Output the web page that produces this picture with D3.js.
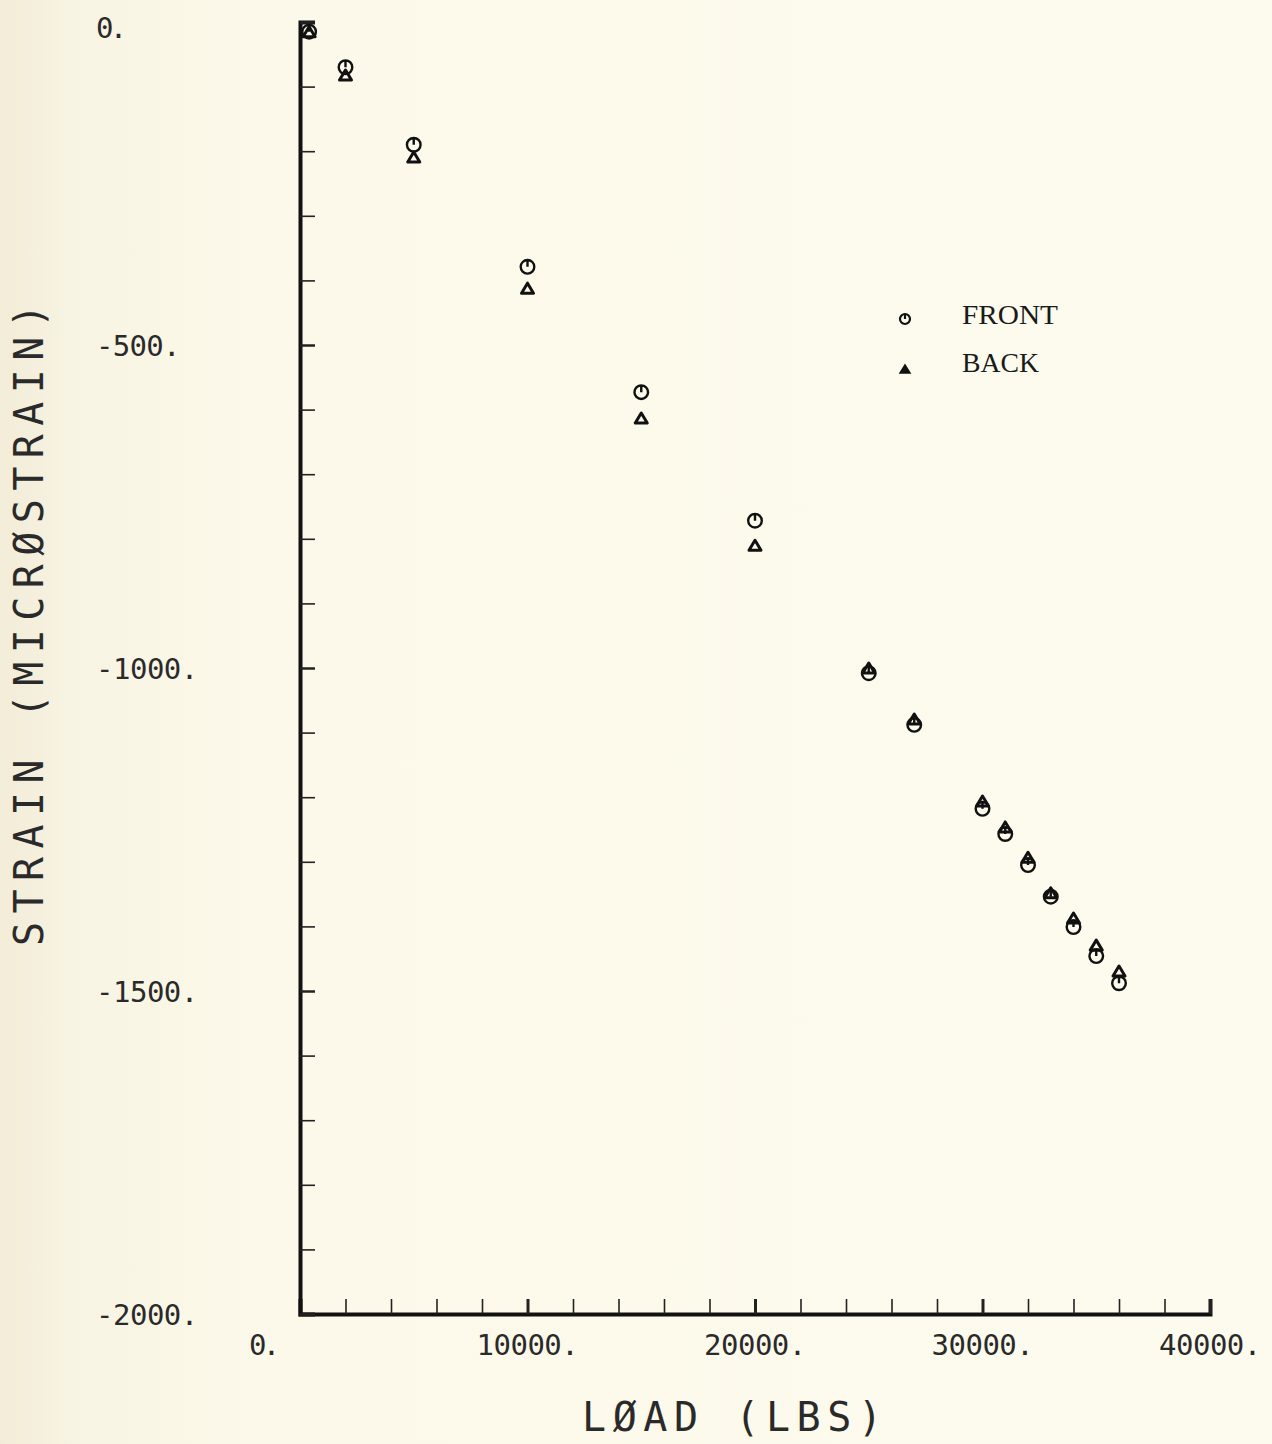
<!DOCTYPE html>
<html lang="en">
  <head>
    <meta charset="utf-8">
    <title>Strain vs Load</title>
    <script src="https://d3js.org/d3.v7.min.js"></script>
    <style>
      body { margin: 0; background: #fcf9ea; }
      .tick-label { font-family: "DejaVu Sans Mono", monospace; font-size: 29px; fill: #2a2a2a; letter-spacing: 0.5px; }
      .axis-title { font-family: "DejaVu Sans Mono", monospace; font-size: 40px; fill: #2a2a2a; }
      .legend-text { font-family: "Liberation Serif", serif; font-size: 28px; fill: #1a1a1a; }
    </style>
  </head>
  <body>
    <script type="text/javascript">
      // load in lbs, strain in microstrain
      var loads       = [400, 2000, 5000, 10000, 15000, 20000, 25000, 27000, 30000, 31000, 32000, 33000, 34000, 35000, 36000];
      var frontStrain = [-15, -70, -190, -379, -573, -772, -1008, -1088, -1218, -1257, -1305, -1354, -1401, -1446, -1488];
      var backStrain  = [-15, -82, -209, -412, -613, -810, -1000, -1079, -1206, -1246, -1293, -1348, -1387, -1429, -1469];

      var xTickLabels = ["0.", "10000.", "20000.", "30000.", "40000."];
      var xTickValues = [0, 10000, 20000, 30000, 40000];
      var yTickLabels = ["0.", "-500.", "-1000.", "-1500.", "-2000."];
      var yTickValues = [0, -500, -1000, -1500, -2000];

      var w = 1272;
      var h = 1444;

      var xScale = d3.scaleLinear()
                     .domain([0, 40000])
                     .range([300, 1210]);

      var yScale = d3.scaleLinear()
                     .domain([0, -2000])
                     .range([22, 1314]);

      var svg = d3.select("body")
                  .append("svg")
                  .attr("width", w)
                  .attr("height", h);

      // paper background, slightly darker at the left edge
      var grad = svg.append("defs").append("linearGradient")
                    .attr("id", "paper");
      grad.append("stop").attr("offset", "0").attr("stop-color", "#f2ecd8");
      grad.append("stop").attr("offset", "0.06").attr("stop-color", "#f8f4e3");
      grad.append("stop").attr("offset", "0.2").attr("stop-color", "#fcf9ea");
      grad.append("stop").attr("offset", "1").attr("stop-color", "#fdfbee");
      svg.append("rect")
         .attr("width", w).attr("height", h)
         .attr("fill", "url(#paper)");

      // axes, ticks pointing inward
      var xAxis = d3.axisBottom(xScale)
                    .tickValues(d3.range(0, 40001, 2000))
                    .tickSize(-15)
                    .tickFormat("");
      var yAxis = d3.axisLeft(yScale)
                    .tickValues(d3.range(0, -2001, -100))
                    .tickSize(-15)
                    .tickFormat("");

      var gx = svg.append("g")
         .attr("transform", "translate(0," + yScale(-2000) + ")")
         .call(xAxis);
      var gy = svg.append("g")
         .attr("transform", "translate(" + xScale(0) + ",0)")
         .call(yAxis);

      [gx, gy].forEach(function(g) {
        g.select(".domain").attr("stroke", "#111").attr("stroke-width", 4);
        g.selectAll(".tick line").attr("stroke", "#222").attr("stroke-width", 1.6);
      });
      gx.selectAll(".tick line")
        .filter(function(d) { return d % 10000 === 0; })
        .attr("stroke-width", 3);
      gy.selectAll(".tick line")
        .filter(function(d) { return d % 500 === 0; })
        .attr("stroke-width", 2.5);

      // tick labels
      svg.selectAll(".xlab")
         .data(xTickValues)
         .enter()
         .append("text")
         .attr("class", "tick-label")
         .attr("x", function(d) { return xScale(d) - 51; })
         .attr("y", yScale(-2000) + 41)
         .attr("textLength", function(d, i) { return xTickLabels[i].length * 17.8 - 4; })
         .attr("lengthAdjust", "spacing")
         .text(function(d, i) { return xTickLabels[i]; });

      svg.selectAll(".ylab")
         .data(yTickValues)
         .enter()
         .append("text")
         .attr("class", "tick-label")
         .attr("x", 96)
         .attr("y", function(d) { return Math.max(yScale(d), 27) + 11; })
         .attr("textLength", function(d, i) { return yTickLabels[i].length * 17.8 - 4; })
         .attr("lengthAdjust", "spacing")
         .text(function(d, i) { return yTickLabels[i]; });

      // axis titles
      svg.append("text")
         .attr("class", "axis-title")
         .attr("x", 582)
         .attr("y", 1431)
         .attr("textLength", 300)
         .attr("lengthAdjust", "spacing")
         .text("LØAD (LBS)");

      svg.append("text")
         .attr("class", "axis-title")
         .attr("transform", "translate(43,946) rotate(-90)")
         .attr("x", 0)
         .attr("y", 0)
         .attr("textLength", 642)
         .attr("lengthAdjust", "spacing")
         .text("STRAIN (MICRØSTRAIN)");

      // marker paths
      function frontPath(r) {
        var k = r * 0.5523;
        return "M0," + (-r) +
               "C" + k + "," + (-r) + " " + r + "," + (-k) + " " + r + ",0" +
               "C" + r + "," + k + " " + k + "," + r + " 0," + r +
               "C" + (-k) + "," + r + " " + (-r) + "," + k + " " + (-r) + ",0" +
               "C" + (-r) + "," + (-k) + " " + (-k) + "," + (-r) + " 0," + (-r) +
               "Z M0," + (-r) + "L0,0";
      }
      function backPath(hw, hh) {
        return "M0," + (-hh) + "L" + hw + "," + hh + "L" + (-hw) + "," + hh + "Z";
      }

      var backPts = loads.map(function(d, i) { return [d, backStrain[i]]; });
      var frontPts = loads.map(function(d, i) { return [d, frontStrain[i]]; });

      svg.selectAll(".back")
         .data(backPts)
         .enter()
         .append("path")
         .attr("class", "back")
         .attr("d", backPath(6, 5))
         .attr("transform", function(d) { return "translate(" + xScale(d[0]) + "," + yScale(d[1]) + ")"; })
         .attr("fill", "#fcf9ea")
         .attr("stroke", "#111")
         .attr("stroke-width", 3)
         .attr("stroke-linejoin", "round");

      svg.selectAll(".front")
         .data(frontPts)
         .enter()
         .append("path")
         .attr("class", "front")
         .attr("d", frontPath(6.8))
         .attr("transform", function(d) { return "translate(" + xScale(d[0]) + "," + yScale(d[1]) + ")"; })
         .attr("fill", "none")
         .attr("stroke", "#111")
         .attr("stroke-width", 2.4);

      // legend
      svg.append("path")
         .attr("d", frontPath(5))
         .attr("transform", "translate(905,319)")
         .attr("fill", "none")
         .attr("stroke", "#111")
         .attr("stroke-width", 2.2);
      svg.append("text")
         .attr("class", "legend-text")
         .attr("x", 962)
         .attr("y", 324)
         .attr("textLength", 96)
         .attr("lengthAdjust", "spacingAndGlyphs")
         .text("FRONT");

      svg.append("path")
         .attr("d", backPath(5, 4))
         .attr("transform", "translate(905,369)")
         .attr("fill", "#111")
         .attr("stroke", "#111")
         .attr("stroke-width", 1.5);
      svg.append("text")
         .attr("class", "legend-text")
         .attr("x", 962)
         .attr("y", 372)
         .attr("textLength", 77)
         .attr("lengthAdjust", "spacingAndGlyphs")
         .text("BACK");
    </script>
  </body>
</html>
